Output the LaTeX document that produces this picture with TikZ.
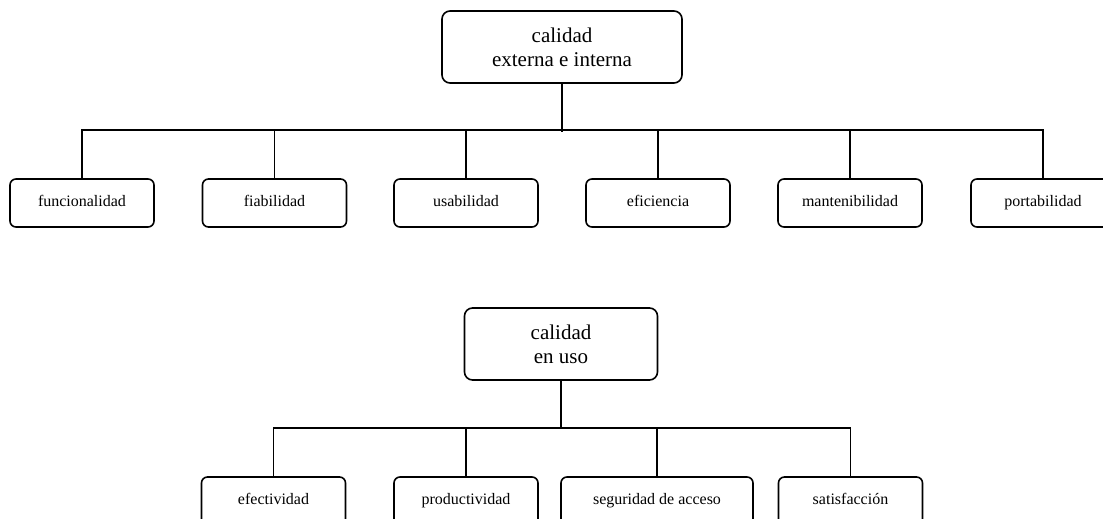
\documentclass[tikz,border=0pt]{standalone}
\usepackage{fontspec}
\setmainfont{Liberation Serif}
\begin{document}
\begin{tikzpicture}[x=1pt,y=-1pt,
  box/.style={draw,line width=1.6pt,rounded corners=6pt,inner sep=0pt,
    text height=11pt,text depth=5pt,
    minimum width=144pt,minimum height=48pt,font=\fontsize{16}{19}\selectfont},
  rootbox/.style={draw,line width=1.6pt,rounded corners=8pt,inner sep=0pt,align=center,
    minimum height=72pt,font=\fontsize{21}{24}\selectfont},
  conn/.style={line width=1.6pt}]
\clip (0,0) rectangle (1103,519);
% top tree
\node[rootbox,minimum width=240pt] (r1) at (562,47) {calidad\\externa e interna};
\node[box] (a1) at (82,203) {funcionalidad};
\node[box] (a2) at (274.5,203) {fiabilidad};
\node[box] (a3) at (466,203) {usabilidad};
\node[box] (a4) at (658,203) {eficiencia};
\node[box] (a5) at (850,203) {mantenibilidad};
\node[box] (a6) at (1043,203) {portabilidad};
\draw[conn] (r1.south) -- ++(0,48);
\draw[conn] (a1.north) -- ++(0,-48) -| (a6.north);
\foreach \n in {a2,a3,a4,a5} \draw[conn] (\n.north) -- ++(0,-48);
% bottom tree
\node[rootbox,minimum width=193pt] (r2) at (561,344) {calidad\\en uso};
\node[box] (b1) at (273.5,501) {efectividad};
\node[box] (b2) at (466,501) {productividad};
\node[box,minimum width=192pt] (b3) at (657,501) {seguridad de acceso};
\node[box] (b4) at (850.5,501) {satisfacción};
\draw[conn] (r2.south) -- ++(0,48);
\draw[conn] (b1.north) -- ++(0,-48) -| (b4.north);
\foreach \n in {b2,b3} \draw[conn] (\n.north) -- ++(0,-48);
\end{tikzpicture}
\end{document}
